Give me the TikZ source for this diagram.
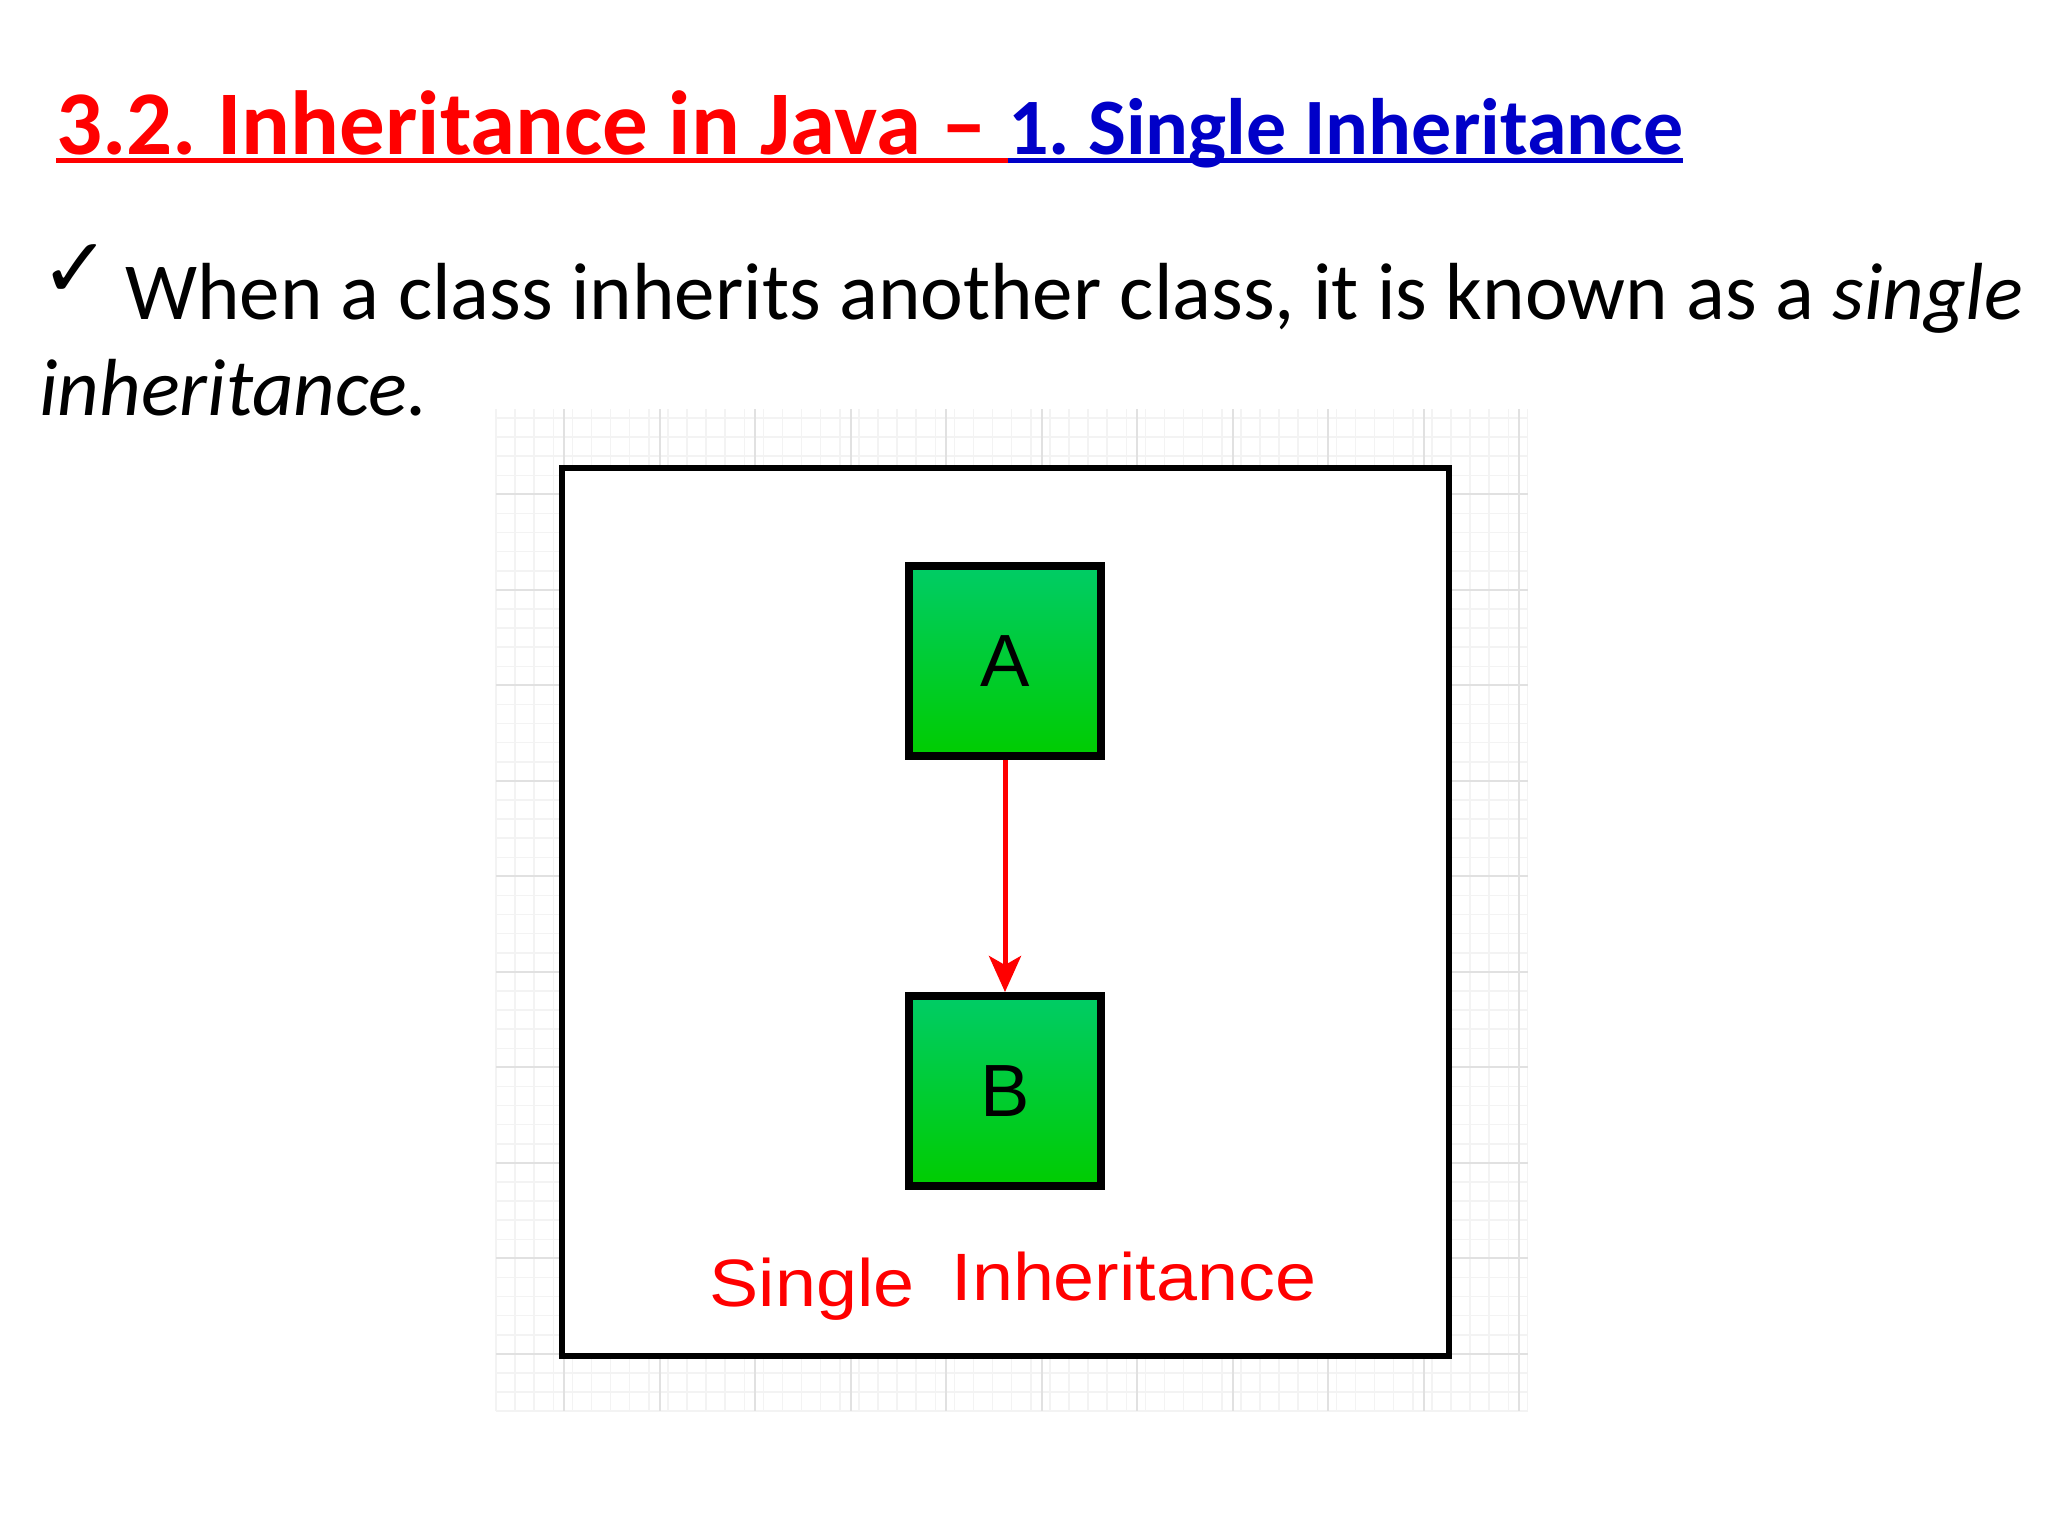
\documentclass[tikz,border=0pt]{standalone}
\usepackage{fontspec}
\setmainfont{Carlito}
\newfontfamily\arialfont{Liberation Sans}
\newfontfamily\symfont{DejaVu Sans}
\usetikzlibrary{positioning, arrows.meta}
\definecolor{slidered}{RGB}{255,0,0}
\definecolor{slideblue}{RGB}{0,0,200}
\definecolor{boxtop}{RGB}{0,204,102}
\definecolor{boxbot}{RGB}{0,204,0}
\definecolor{gridmajor}{RGB}{225,225,225}
\definecolor{gridminor}{RGB}{243,243,243}
\tikzstyle{box} = [rectangle, minimum width = 192, minimum height = 190,
  draw = black, line width = 8, top color = boxtop, bottom color = boxbot,
  text centered, font = \arialfont\fontsize{74}{80}\selectfont]
\tikzstyle{ttl} = [
  anchor = base west, inner sep = 0
]
\tikzstyle{body} = [anchor = base west, inner sep = 0,
  font = \fontsize{81}{96}\selectfont]
\frenchspacing

\begin{document}
\begin{tikzpicture}[x = 1pt, y = -1pt]
      \useasboundingbox [fill = white] (0, 0) rectangle (2048, 1536);
      % title
      \node [ttl, text = slidered, font = \bfseries\fontsize{91}{110}\selectfont] (ttl-a) at (56, 154) {3.2. Inheritance in Java --};
      \node [ttl, text = slideblue, font = \bfseries\fontsize{80}{100}\selectfont] (ttl-b) at (1008, 154) {1. Single Inheritance};
      \draw [slidered, line width = 5] ([yshift = -7]ttl-a.base west) -- ([yshift = -7]ttl-b.base west);
      \draw [slideblue, line width = 5] ([yshift = -7]ttl-b.base west) -- ([yshift = -7]ttl-b.base east);
      % text
      \node [anchor = base west, inner sep = 0, font = \symfont\fontsize{84}{96}\selectfont] (tick) at (40, 297) {✓};
      \node [body] (line-1) at (125, 319) {When a class inherits another class, it is known as a \textit{single}};
      \node [body] (line-2) at (39, 415) {\textit{inheritance.}};
      % grid
      \foreach \i in {0, ..., 54}
        \draw [gridminor, line width = 1.5] (496 + 19.1*\i, 409) -- (496 + 19.1*\i, 1411);
      \foreach \i in {0, ..., 52}
        \draw [gridminor, line width = 1.5] (496, 418 + 19.1*\i) -- (1528, 418 + 19.1*\i);
      \foreach \i in {0, ..., 10}
        \draw [gridmajor, line width = 2] (564 + 95.5*\i, 409) -- (564 + 95.5*\i, 1411);
      \foreach \i in {0, ..., 9}
        \draw [gridmajor, line width = 2] (496, 494 + 95.5*\i) -- (1528, 494 + 95.5*\i);
      % frame
      \draw [line width = 6, fill = white] (562, 468) rectangle (1449, 1356);
      % classes
      \node [box] (box-a) at (1005, 661) {A};
      \node [box] (box-b) at (1005, 1091) {B};
      \draw [slidered, line width = 5, -{Stealth[length = 36, width = 32, inset = 9]}] (box-a) -- (box-b);
      \node [anchor = base, inner sep = 0, text = slidered, xscale = 1.1,
        font = \arialfont\fontsize{67}{80}\selectfont] (caption) at (1013, 1306) {Single\hspace{0.5em}\raisebox{6pt}{Inheritance}};
    \end{tikzpicture}
\end{document}
